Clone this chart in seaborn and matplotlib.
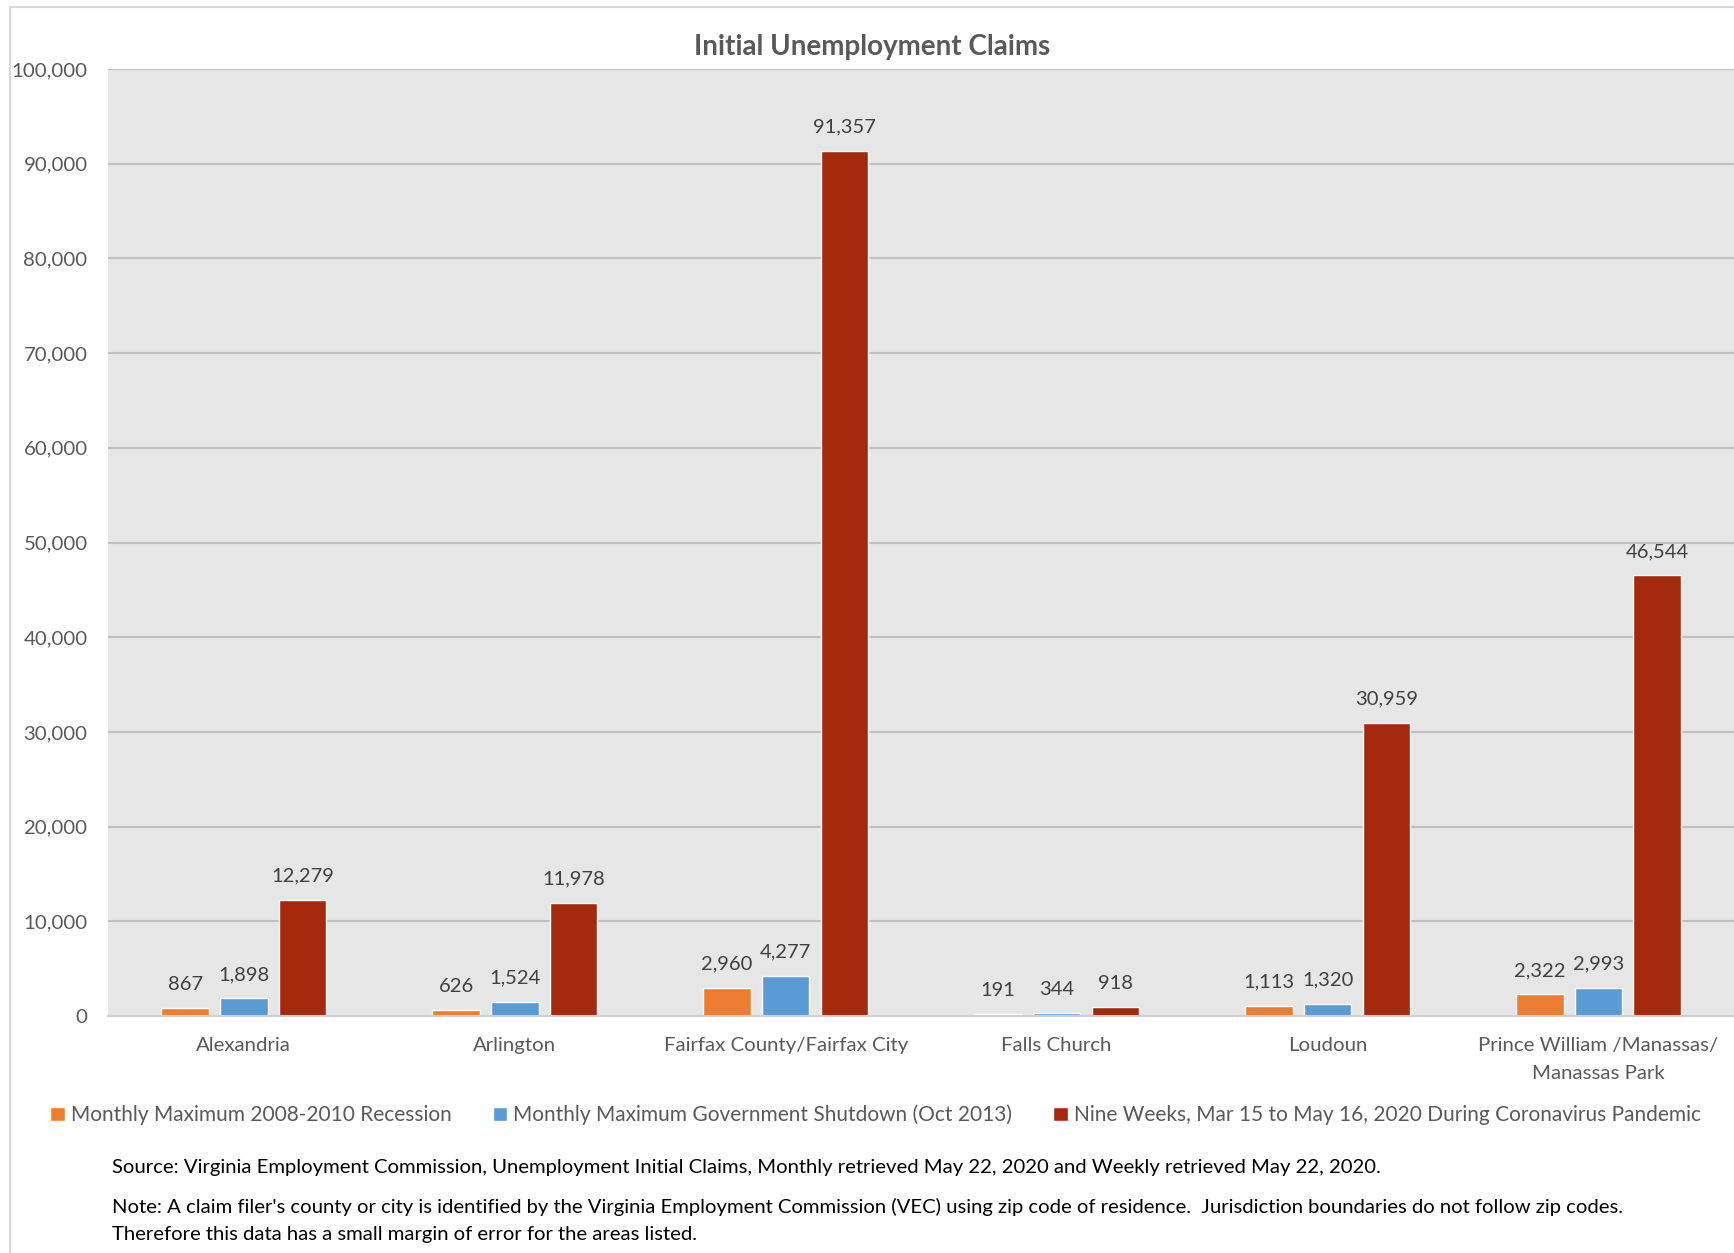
import matplotlib
matplotlib.use("Agg")
import matplotlib.pyplot as plt
import seaborn as sns
import pandas as pd
from matplotlib.lines import Line2D
from matplotlib.ticker import FuncFormatter, MultipleLocator

categories = ["Alexandria", "Arlington", "Fairfax County/Fairfax City", "Falls Church",
              "Loudoun", "Prince William /Manassas/\nManassas Park"]
series_names = ["Monthly Maximum 2008-2010 Recession",
                "Monthly Maximum Government Shutdown (Oct 2013)",
                "Nine Weeks, Mar 15 to May 16, 2020 During Coronavirus Pandemic"]
recession = [867, 626, 2960, 191, 1113, 2322]
shutdown = [1898, 1524, 4277, 344, 1320, 2993]
pandemic = [12279, 11978, 91357, 918, 30959, 46544]
colors = ["#ED7D31", "#5B9BD5", "#A52A0D"]

rows = []
for name, vals in zip(series_names, [recession, shutdown, pandemic]):
    for c, v in zip(categories, vals):
        rows.append({"Jurisdiction": c, "Series": name, "Claims": v})
df = pd.DataFrame(rows)

sns.set_theme(style="white")
plt.rcParams['font.family'] = ['Lato', 'DejaVu Sans']
text_col = "#595959"

fig = plt.figure(figsize=(17.34, 12.53), dpi=100)
ax = fig.add_axes([0.0625, 0.189, 0.9375, 0.756])
ax.set_facecolor("#E6E6E6")

sns.barplot(data=df, x="Jurisdiction", y="Claims", hue="Series", order=categories,
            hue_order=series_names, palette=colors, width=0.65, gap=0.19,
            saturation=1, ax=ax, legend=True, errorbar=None)

ax.set_ylim(0, 100000)
ax.yaxis.set_major_locator(MultipleLocator(10000))
ax.yaxis.set_major_formatter(FuncFormatter(lambda v, p: f"{int(v):,}"))
ax.grid(axis="y", color="#C0C0C0", linewidth=1.5)
ax.set_axisbelow(True)
for s in ["left", "right", "top"]:
    ax.spines[s].set_visible(False)
ax.spines["bottom"].set_color("#D0D0D0")
ax.spines["bottom"].set_linewidth(1.5)
ax.tick_params(axis="both", length=0, labelsize=14.7, colors=text_col)
ax.tick_params(axis="x", pad=15)
ax.tick_params(axis="y", pad=15)
for lab in ax.get_xticklabels():
    lab.set_linespacing(1.75)
ax.set_xlabel("")
ax.set_ylabel("")

for cont in ax.containers:
    ax.bar_label(cont, labels=[f"{int(v):,}" for v in cont.datavalues],
                 padding=11, fontsize=14.5, color="#404040")

fig.text(0.503, 0.9625, "Initial Unemployment Claims", fontsize=20, fontweight="bold",
         color=text_col, ha="center", va="center")

handles, labels = ax.get_legend_handles_labels()
ax.get_legend().remove()
fig.legend(handles, labels, loc="center", bbox_to_anchor=(0.505, 0.110), ncol=3,
           frameon=False, fontsize=15, handlelength=0.7, handleheight=0.7,
           handletextpad=0.3, columnspacing=1.95, labelcolor=text_col)

fs = 14.6
fig.text(0.0645, 0.068, "Source: Virginia Employment Commission, Unemployment Initial Claims, "
         "Monthly retrieved May 22, 2020 and Weekly retrieved May 22, 2020.",
         fontsize=fs, color="#000000", va="center")
fig.text(0.0645, 0.037, "Note: A claim filer's county or city is identified by the Virginia "
         "Employment Commission (VEC) using zip code of residence.  Jurisdiction boundaries "
         "do not follow zip codes.", fontsize=fs, color="#000000", va="center")
fig.text(0.0645, 0.015, "Therefore this data has a small margin of error for the areas listed.",
         fontsize=fs, color="#000000", va="center")

fig.add_artist(Line2D([0.0058, 0.0058], [0.0, 0.9945], transform=fig.transFigure,
                      color="#D9D9D9", linewidth=1.5))
fig.add_artist(Line2D([0.0058, 1.0], [0.9945, 0.9945], transform=fig.transFigure,
                      color="#D9D9D9", linewidth=1.5))

fig.savefig("out.png", dpi=100)
